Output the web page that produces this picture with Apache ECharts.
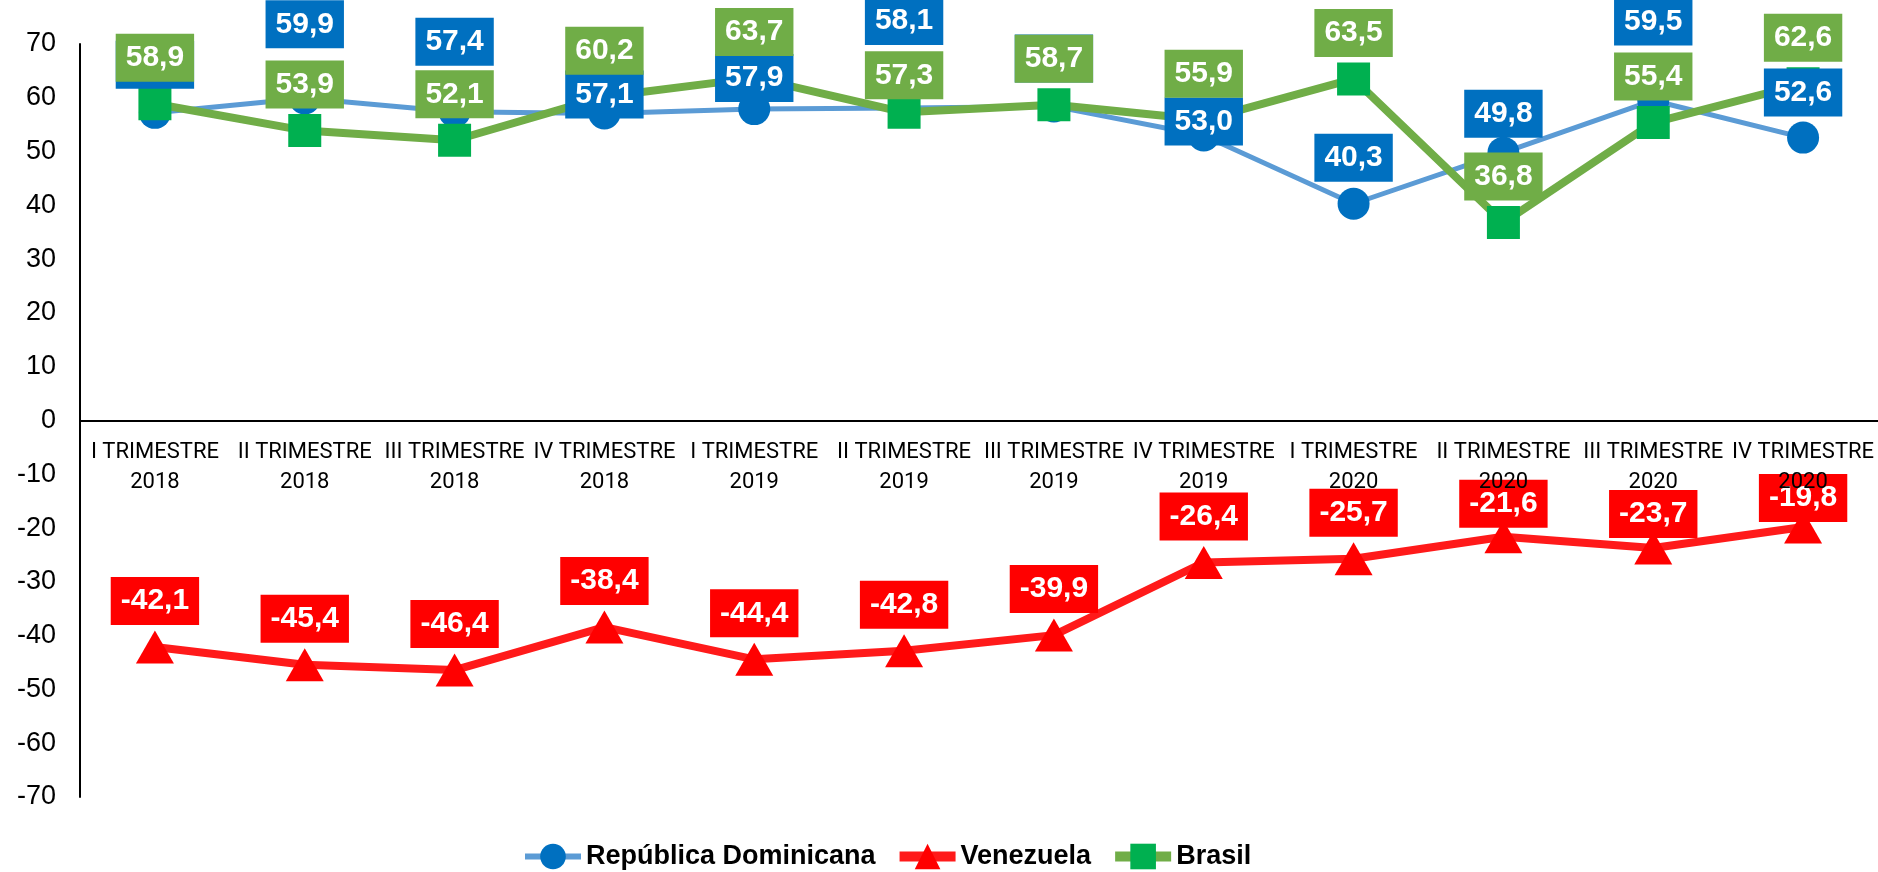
<!DOCTYPE html>
<html>
<head>
<meta charset="utf-8">
<title>Índice trimestral</title>
<script src="https://cdn.jsdelivr.net/npm/echarts@6/dist/echarts.min.js"></script>
<style>
  html, body { margin: 0; padding: 0; background: #fff; }
  #chart { width: 1878px; height: 872px; }
</style>
</head>
<body>
<div id="chart"></div>
<script>
// categorias (trimestres)
const categories = [
  'I TRIMESTRE\n2018', 'II TRIMESTRE\n2018', 'III TRIMESTRE\n2018', 'IV TRIMESTRE\n2018',
  'I TRIMESTRE\n2019', 'II TRIMESTRE\n2019', 'III TRIMESTRE\n2019', 'IV TRIMESTRE\n2019',
  'I TRIMESTRE\n2020', 'II TRIMESTRE\n2020', 'III TRIMESTRE\n2020', 'IV TRIMESTRE\n2020'
];
// valores por pais
const rdValues = [57.2, 59.9, 57.4, 57.1, 57.9, 58.1, 58.4, 53.0, 40.3, 49.8, 59.5, 52.6];
const veValues = [-42.1, -45.4, -46.4, -38.4, -44.4, -42.8, -39.9, -26.4, -25.7, -21.6, -23.7, -19.8];
const brValues = [58.9, 53.9, 52.1, 60.2, 63.7, 57.3, 58.7, 55.9, 63.5, 36.8, 55.4, 62.6];
// ticks del eje y
const yMin = -70, yMax = 70, yStep = 10;

// separacion de las etiquetas sobre el punto (px), solo estilo
const rdLift = [48, 74, 70, 19, 31, 87, 48, 14, 46, 39, 79, 45];
const veLift = [46, 46, 46, 46, 46, 46, 46, 46, 46, 33, 34, 29];
const brLift = [46, 46, 46, 46, 46, 37, 46, 46, 46, 46, 46, 46];

const fmt = v => v.toFixed(1).replace('.', ',');

function withLabels(values, lift) {
  return values.map((v, i) => ({
    value: v,
    label: { offset: [0, -lift[i]] }
  }));
}

function labelStyle(bg) {
  return {
    show: true,
    position: 'inside',
    formatter: p => fmt(p.value),
    color: '#fff',
    fontFamily: 'Liberation Sans',
    fontWeight: 'bold',
    fontSize: 30,
    lineHeight: 36,
    backgroundColor: bg,
    padding: [6, 10, 6, 10]
  };
}

const chart = echarts.init(document.getElementById('chart'));
const gridTop = 44, gridBottom = 75;
const plotH = 872 - gridTop - gridBottom;
// el eje x va sobre el cero
const zeroShift = plotH * (0 - yMin) / (yMax - yMin);

const option = {
  animation: false,
  grid: { left: 80, right: 0, top: gridTop, bottom: gridBottom, containLabel: false },
  legend: {
    left: 517,
    top: 838,
    itemWidth: 56,
    itemHeight: 32,
    itemGap: 19,
    textStyle: { fontFamily: 'Liberation Sans', fontWeight: 'bold', fontSize: 27, color: '#000' },
    data: [
      { name: 'República Dominicana', lineStyle: { width: 6 } },
      { name: 'Venezuela', lineStyle: { width: 10 } },
      { name: 'Brasil', lineStyle: { width: 10 } }
    ]
  },
  xAxis: {
    type: 'category',
    data: categories,
    boundaryGap: true,
    position: 'bottom',
    offset: -zeroShift,
    z: 20,
    axisLine: { onZero: false, lineStyle: { color: '#000', width: 2 } },
    axisTick: { show: false },
    axisLabel: {
      interval: 0,
      margin: 17,
      color: '#000',
      fontFamily: 'Roboto',
      fontSize: 22,
      lineHeight: 30
    }
  },
  yAxis: {
    type: 'value',
    min: yMin,
    max: yMax,
    interval: yStep,
    axisLine: { show: true, lineStyle: { color: '#000', width: 2 } },
    axisTick: { show: false },
    splitLine: { show: false },
    axisLabel: {
      margin: 24,
      color: '#000',
      fontFamily: 'Liberation Sans',
      fontSize: 27
    }
  },
  series: [
    {
      name: 'República Dominicana',
      type: 'line',
      data: withLabels(rdValues, rdLift),
      symbol: 'circle',
      symbolSize: 32,
      lineStyle: { color: '#5B9BD5', width: 5 },
      itemStyle: { color: '#0070C0' },
      label: labelStyle('#0070C0')
    },
    {
      name: 'Venezuela',
      type: 'line',
      data: withLabels(veValues, veLift),
      symbol: 'triangle',
      symbolSize: [38, 33],
      lineStyle: { color: '#FF1A1A', width: 8 },
      itemStyle: { color: '#FF0000' },
      label: labelStyle('#FF0000')
    },
    {
      name: 'Brasil',
      type: 'line',
      data: withLabels(brValues, brLift),
      symbol: 'rect',
      symbolSize: 33,
      lineStyle: { color: '#70AD47', width: 8 },
      itemStyle: { color: '#00B050' },
      label: labelStyle('#70AD47')
    }
  ]
};
chart.setOption(option);
</script>
</body>
</html>
